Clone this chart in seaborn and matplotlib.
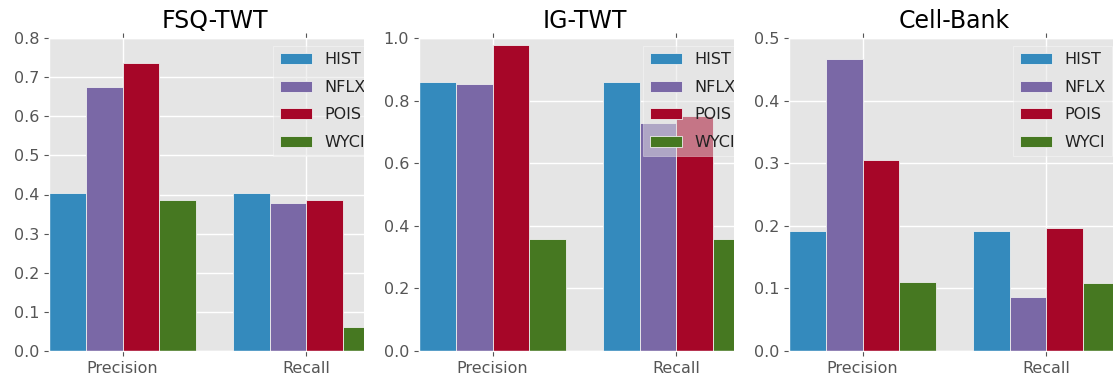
import matplotlib
matplotlib.use("Agg")
import matplotlib.pyplot as plt
from matplotlib.patches import Rectangle
import numpy as np
import pandas as pd
import seaborn as sns

# ---- data -------------------------------------------------------------
metrics = ["Precision", "Recall"]
methods = ["HIST", "NFLX", "POIS", "WYCI"]
colors = ["#348ABD", "#7A68A6", "#A60628", "#467821"]
titles = ["FSQ-TWT", "IG-TWT", "Cell-Bank"]

fsq_twt_precision = [0.405, 0.674, 0.737, 0.387]
fsq_twt_recall = [0.405, 0.377, 0.385, 0.061]

ig_twt_precision = [0.859, 0.852, 0.979, 0.358]
ig_twt_recall = [0.859, 0.729, 0.752, 0.358]

cell_bank_precision = [0.192, 0.466, 0.305, 0.111]
cell_bank_recall = [0.192, 0.087, 0.197, 0.108]

fsq_twt_yticks = [0.0, 0.1, 0.2, 0.3, 0.4, 0.5, 0.6, 0.7, 0.8]
ig_twt_yticks = [0.0, 0.2, 0.4, 0.6, 0.8, 1.0]
cell_bank_yticks = [0.0, 0.1, 0.2, 0.3, 0.4, 0.5]

panels = [
    (titles[0], fsq_twt_precision, fsq_twt_recall, fsq_twt_yticks),
    (titles[1], ig_twt_precision, ig_twt_recall, ig_twt_yticks),
    (titles[2], cell_bank_precision, cell_bank_recall, cell_bank_yticks),
]

# ---- style ------------------------------------------------------------
plt.style.use("ggplot")
plt.rcParams.update({
    "font.family": ["DejaVu Sans"],
    "axes.facecolor": "#E5E5E5",
    "axes.edgecolor": "white",
    "grid.color": "white",
    "grid.linewidth": 1.0,
    "xtick.color": "#555555",
    "ytick.color": "#555555",
    "xtick.labelcolor": "#555555",
    "ytick.labelcolor": "#555555",
    "axes.titlecolor": "black",
    "legend.labelcolor": "#222222",
})

W, H = 1113, 379
fig = plt.figure(figsize=(W / 100, H / 100), dpi=100)


def frac(left, top, width, height):
    return [left / W, 1 - (top + height) / H, width / W, height / H]


ax_left = [49, 419, 789]
crop_right = [363.5, 734]

axes = []
for i, (title, prec, rec, yticks) in enumerate(panels):
    ax = fig.add_axes(frac(ax_left[i], 38, 331, 313))
    ax.set_zorder(2 * i + 1)
    df = pd.DataFrame({
        "metric": np.repeat(metrics, len(methods)),
        "method": methods * len(metrics),
        "value": list(prec) + list(rec),
    })
    sns.barplot(data=df, x="metric", y="value", hue="method",
                hue_order=methods, palette=colors, width=0.8,
                saturation=1, edgecolor="#EEEEEE", linewidth=0.6,
                errorbar=None, ax=ax)
    ax.set_xlim(-0.4, 1.4)
    ax.set_ylim(yticks[0], yticks[-1])
    ax.set_yticks(yticks)
    ax.set_yticklabels([f"{t:.1f}" for t in yticks])
    ax.set_xlabel("")
    ax.set_ylabel("")
    ax.set_axisbelow(True)
    ax.grid(True, color="white", linewidth=1.0)
    ax.tick_params(axis="both", labelsize=11.5, direction="out",
                   length=3.6, width=0.8, top=True, right=True)
    ax.set_title(title, fontsize=17, pad=7)

    handles, labels = ax.get_legend_handles_labels()
    ax.legend(handles, labels, loc="upper right", fontsize=11.5,
              framealpha=0.5, facecolor="#E5E5E5", edgecolor="white",
              fancybox=False, handlelength=2.0, labelspacing=0.78,
              borderaxespad=0.5)
    axes.append(ax)

# white gutters between panels hide the overflow of each panel
for i, x0 in enumerate(crop_right):
    x1 = ax_left[i + 1]
    rect = Rectangle((x0 / W, 0), (x1 - x0) / W, 1,
                     transform=fig.transFigure, facecolor="white",
                     edgecolor="none", zorder=2 * i + 1.5)
    fig.add_artist(rect)

fig.savefig("out.png", dpi=100)
